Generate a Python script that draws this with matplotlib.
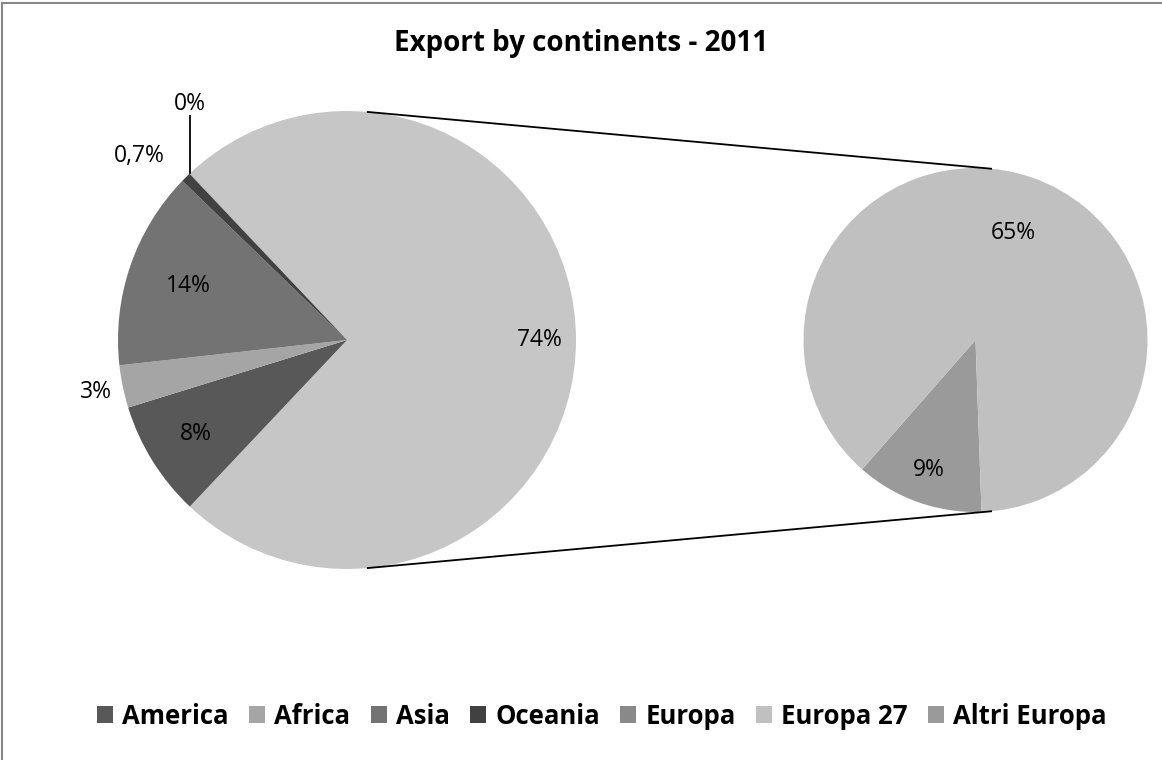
import numpy as np
import matplotlib.pyplot as plt
from matplotlib.patches import Rectangle

# values in percent of total export
main_labels = ['America', 'Africa', 'Asia', 'Oceania', 'Europa']
main_values = [8.2, 3.0, 14.0, 0.7, 0.03]
main_colors = ['#585858', '#a5a5a5', '#737373', '#414141', '#898989']

europe_labels = ['Europa 27', 'Altri Europa']
europe_values = [65.2, 8.9]
europe_colors = ['#c0c0c0', '#9a9a9a']
other_color = '#c6c6c6'

title = 'Export by continents - 2011'

W, H = 1162, 760
plt.rcParams['font.family'] = ['Open Sans', 'DejaVu Sans']
LBL = 16.5


def pct_label(v):
    if v < 1 and round(v, 1) > 0:
        return f'{v:.1f}%'.replace('.', ',')
    return f'{round(v):.0f}%'


fig = plt.figure(figsize=(W / 100, H / 100), dpi=100)
ax = fig.add_axes([0, 0, 1, 1])

c1, r1 = (347, 420), 229
c2, r2 = (975.5, 420), 172

other = sum(europe_values)
sizes1 = [other] + main_values
tot1 = sum(sizes1)
wedges1, _ = ax.pie(sizes1, colors=[other_color] + main_colors, center=c1, radius=r1,
                    startangle=180 * other / tot1, counterclock=False,
                    wedgeprops=dict(linewidth=0))
wedges2, _ = ax.pie(europe_values[::-1], colors=europe_colors[::-1], center=c2, radius=r2,
                    startangle=-88, counterclock=False,
                    wedgeprops=dict(linewidth=0))
wedges2 = wedges2[::-1]

ax.set_xlim(0, W)
ax.set_ylim(0, H)
ax.set_aspect('equal')
ax.axis('off')


def mid(w):
    return np.deg2rad((w.theta1 + w.theta2) / 2)


def put(w, c, r, txt, f, ha='center', **kw):
    a = mid(w)
    ax.text(c[0] + f * r * np.cos(a), c[1] + f * r * np.sin(a), txt,
            ha=ha, va='center', fontsize=LBL, color='black', **kw)


# labels on main pie
put(wedges1[0], c1, r1, pct_label(other), 0.84)
put(wedges1[1], c1, r1, pct_label(main_values[0]), 0.78)
put(wedges1[2], c1, r1, pct_label(main_values[1]), 1.12)
put(wedges1[3], c1, r1, pct_label(main_values[2]), 0.73)
put(wedges1[4], c1, r1, pct_label(main_values[3]), 1.13, ha='right')

# 0% label with leader line
a = np.deg2rad(wedges1[5].theta1)
x0, y0 = c1[0] + r1 * np.cos(a), c1[1] + r1 * np.sin(a)
ax.plot([x0, x0], [y0, y0 + 57], color='black', lw=1.3)
ax.text(x0, y0 + 69, pct_label(main_values[4]), ha='center', va='center',
        fontsize=LBL)

# labels on secondary pie
put(wedges2[0], c2, r2, pct_label(europe_values[0]), 0.66)
put(wedges2[1], c2, r2, pct_label(europe_values[1]), 0.8)

# connector lines (outer tangents)
d = c2[0] - c1[0]
alpha = np.arcsin((r1 - r2) / d)
for s in (1, -1):
    t = s * (np.pi / 2 - alpha)
    ax.plot([c1[0] + r1 * np.cos(t), c2[0] + r2 * np.cos(t)],
            [c1[1] + r1 * np.sin(t), c2[1] + r2 * np.sin(t)],
            color='black', lw=1.3)

fig.text(0.5, 1 - 43 / H, title, ha='center', va='center', fontsize=20,
         fontweight='bold')

handles = list(wedges1[1:]) + list(wedges2)
fig.legend(handles, main_labels + europe_labels, loc='center',
           bbox_to_anchor=(602 / W, 1 - 716 / H), ncol=7, frameon=False,
           prop=dict(weight='bold', size=18.5), handlelength=0.62,
           handleheight=0.62, handletextpad=0.35, columnspacing=0.8,
           borderpad=0)

# chart border (only top/left visible)
fig.patches.append(Rectangle((2.5 / W, -0.1), 1.2, 1.1 - 3 / H, transform=fig.transFigure,
                             fill=False, edgecolor='#878787', lw=1.5))

fig.savefig('out.png', dpi=100)
